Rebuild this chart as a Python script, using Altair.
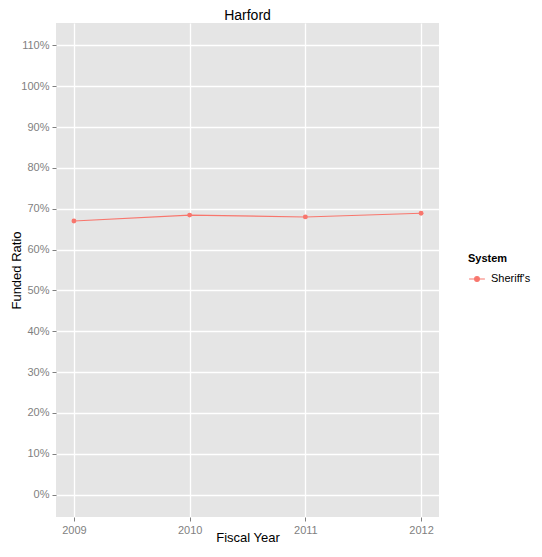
import altair as alt
import pandas as pd

years = [2009, 2010, 2011, 2012]
ratios = [0.670, 0.6845, 0.680, 0.689]
system = ["Sheriff's"] * 4

df = pd.DataFrame({"Fiscal Year": years, "Funded Ratio": ratios, "System": system})

y_ticks = [i / 10 for i in range(0, 12)]

W, H = 383, 494

base = alt.Chart(df).encode(
    x=alt.X("Fiscal Year:Q",
            scale=alt.Scale(domain=[2008.845, 2012.155], nice=False, zero=False),
            axis=alt.Axis(values=years, format="d", title="Fiscal Year",
                          titleX=W / 2, titleY=20, titleBaseline="middle", titleAlign="center")),
    y=alt.Y("Funded Ratio:Q",
            scale=alt.Scale(domain=[-0.055, 1.155], nice=False, zero=False),
            axis=alt.Axis(values=y_ticks, format=".0%", title="Funded Ratio",
                          titleX=-40, titleY=H / 2, titleAngle=270,
                          titleBaseline="middle", titleAlign="center")),
    color=alt.Color("System:N",
                    scale=alt.Scale(range=["#F8766D"]),
                    legend=alt.Legend(
                        title="System", orient="none", legendX=412, legendY=230,
                        symbolType="M-1,0H1M0.3,0A0.3,0.3 0 1,1 -0.3,0A0.3,0.3 0 1,1 0.3,0Z",
                        symbolSize=250, symbolStrokeWidth=1.2,
                        titleFontSize=11, titleFontWeight="bold", titleColor="black",
                        labelFontSize=11, labelColor="black", titlePadding=6,
                        labelOffset=5,
                    )),
)

line = base.mark_line(strokeWidth=1.1)
pts = base.mark_point(filled=True, size=24, opacity=1)

chart = (line + pts).properties(
    width=W, height=H,
    title=alt.TitleParams("Harford", fontSize=14, fontWeight="normal", color="black",
                          anchor="middle", offset=0),
    autosize=alt.AutoSizeParams(type="none"),
    padding={"left": 48, "top": 15, "right": 95, "bottom": 27},
).configure_view(
    fill="#E5E5E5", stroke=None
).configure_axis(
    grid=True, gridColor="white", gridWidth=1.3, domain=False,
    tickColor="#7F7F7F", tickSize=4, labelColor="#7F7F7F", labelFontSize=11,
    titleColor="black", titleFontSize=13, titleFontWeight="normal",
    labelFont="Liberation Sans", titleFont="Liberation Sans"
).configure_axisX(
    labelPadding=3
).configure_axisY(
    labelPadding=3
).configure_title(
    font="Liberation Sans"
).configure_legend(
    labelFont="Liberation Sans", titleFont="Liberation Sans"
)

chart.save("out.html", embed_options={"renderer": "svg", "actions": False})
